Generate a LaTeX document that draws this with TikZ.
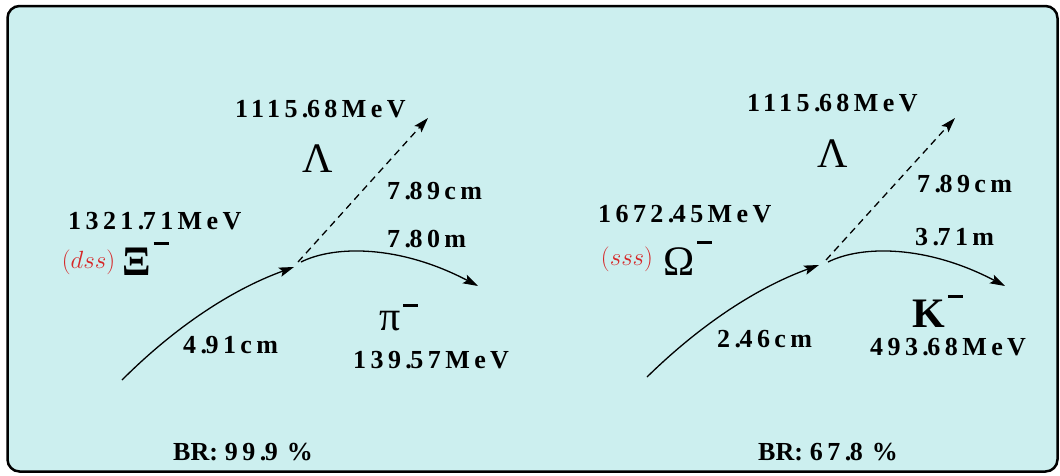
\documentclass[tikz,border=0pt]{standalone}
\usepackage{fontspec}
\setmainfont{Liberation Serif}
\newfontfamily\trk[LetterSpace=17]{Liberation Serif}
\newfontfamily\ntrk{Liberation Serif}
\usetikzlibrary{arrows.meta}
\definecolor{bgcyan}{RGB}{204,239,239}
\definecolor{qred}{RGB}{214,39,40}
\newcommand\mbar[1]{\hspace{3pt}\raisebox{#1}{\rule{15pt}{3pt}}}
\newcommand\pd{.\kern-1.5pt}
\begin{document}
\begin{tikzpicture}[x=1pt,y=-1pt,
  num/.style={font=\fontsize{26}{28}\selectfont\bfseries\trk, inner sep=0pt, anchor=base west},
  greek/.style={font=\fontsize{42}{44}\selectfont, inner sep=0pt, anchor=base west},
  quark/.style={font=\fontsize{26}{28}\selectfont, text=qred, inner sep=0pt, anchor=center},
  track/.style={line width=1.3pt, -{Stealth[length=15pt,width=9.5pt,inset=3pt]}},
  dtrack/.style={track, dash pattern=on 7pt off 5pt},
  frame/.style={line width=2.5pt, rounded corners=12pt, fill=bgcyan}]
\useasboundingbox (0,0) rectangle (1060,475);
\draw[frame] (7.5,6) rectangle (1057.5,471.5);

% ---------- left panel: Xi- -> Lambda pi- ----------
\node[num] (l1m) at (235,117) {1115\pd 68MeV};
\node[greek] (l1g) at (302,172) {Λ};
\node[num] (l1d) at (387,199) {7\pd 89cm};
\node[num] (l0m) at (68,229) {1321\pd 71MeV};
\node[quark] (l0q) at (88.5,262.5) {$(dss)$};
\node[greek] (l0g) at (122,275) {\bfseries Ξ\mbar{30pt}};
\node[num] (l2d) at (387,247) {7\pd 80m};
\node[greek] (l2g) at (379,330) {π\mbar{23pt}};
\node[num] (l0d) at (183,353) {4\pd 91cm};
\node[num] (l2m) at (353,368) {139\pd 57MeV};
\node[num] (lbr) at (173,460) {{\ntrk BR:\kern7pt}99\pd 9\kern9pt\%};

\coordinate (lxs) at (122,380);
\coordinate (lxe) at (294,267);
\coordinate (lls) at (298,262);
\coordinate (lle) at (428,118);
\coordinate (lps) at (301,262);
\coordinate (lpe) at (478,286);
\draw[track] (lxs) .. controls (171.5,330.5) and (228,291) .. (lxe);
\draw[dtrack] (lls) -- (lle);
\draw[track] (lps) .. controls (335,245) and (400,245) .. (lpe);

% ---------- right panel: Omega- -> Lambda K- ----------
\node[num] (r1m) at (747,111) {1115\pd 68MeV};
\node[greek] (r1g) at (817,167) {Λ};
\node[num] (r1d) at (917,192) {7\pd 89cm};
\node[num] (r0m) at (598,222) {1672\pd 45MeV};
\node[quark] (r0q) at (627,259) {$(sss)$};
\node[greek] (r0g) at (663,275) {Ω\mbar{31pt}};
\node[num] (r2d) at (915,245) {3\pd 71m};
\node[greek] (r2g) at (912,327) {\bfseries K\mbar{29pt}};
\node[num] (r0d) at (717,347) {2\pd 46cm};
\node[num] (r2m) at (870,355) {493\pd 68MeV};
\node[num] (rbr) at (758,460) {{\ntrk BR:\kern7pt}67\pd 8\kern9pt\%};

\coordinate (rxs) at (647,377);
\coordinate (rxe) at (819,265);
\coordinate (rls) at (826,260);
\coordinate (rle) at (955,118);
\coordinate (rks) at (828,262);
\coordinate (rke) at (1005,286);
\draw[track] (rxs) .. controls (696.5,328.5) and (753,289) .. (rxe);
\draw[dtrack] (rls) -- (rle);
\draw[track] (rks) .. controls (862,245) and (927,245) .. (rke);
\end{tikzpicture}
\end{document}
